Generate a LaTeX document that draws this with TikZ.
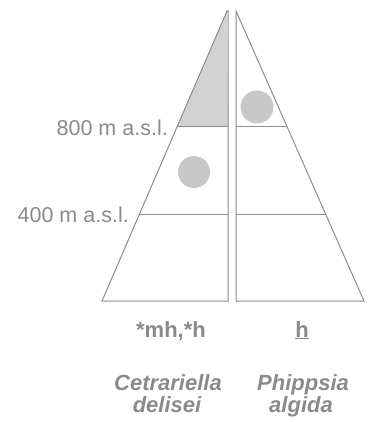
\documentclass[tikz,border=0pt]{standalone}
\usepackage{fontspec}
\setmainfont{Liberation Sans}
\definecolor{ln}{HTML}{8C8C8C}
\definecolor{tx}{HTML}{8A8A8A}
\definecolor{fillg}{HTML}{D2D2D2}
\definecolor{dot}{HTML}{C8C8C8}
\begin{document}
\begin{tikzpicture}[x=1pt,y=-1pt,
  edge/.style={draw=ln,line width=1pt},
  lbl/.style={text=tx,font=\fontsize{21.5}{24}\selectfont,inner sep=0pt},
  code/.style={text=tx,font=\fontsize{22}{24}\selectfont\bfseries,inner sep=0pt,anchor=base},
  spec/.style={text=tx,font=\fontsize{22}{24}\selectfont\bfseries\itshape,inner sep=0pt,anchor=base},
  spot/.style={fill=dot,draw=none}]
\useasboundingbox (0,0) rectangle (369,422);
% shaded top of left half
\fill[fillg] (227,11) -- (177,127) -- (228,127) -- cycle;
% left half-pyramid
\draw[edge] (228,11) -- (227,11) -- (102,301) -- (228,301) -- cycle;
\draw[edge] (177,127) -- (228,127);
\draw[edge] (139,214) -- (228,214);
% right half-pyramid
\draw[edge] (236,11) -- (364,301) -- (236,301) -- cycle;
\draw[edge] (236,127) -- (287,127);
\draw[edge] (236,214) -- (325,214);
% dots
\fill[spot] (194,172) circle (16);
\fill[spot] (257,107) circle (16.5);
% labels
\node[lbl,anchor=east] (l800) at (168,128) {800 m a.s.l.};
\node[lbl,anchor=east] (l400) at (129,215) {400 m a.s.l.};
\node[code] (c1) at (171,337) {*mh,*h};
\node[code] (c2) at (302,337) {\underline{h}};
\node[spec] (s1a) at (168,390) {Cetrariella};
\node[spec] (s1b) at (167,412) {delisei};
\node[spec] (s2a) at (303,390) {Phippsia};
\node[spec] (s2b) at (301,412) {algida};
\end{tikzpicture}
\end{document}
